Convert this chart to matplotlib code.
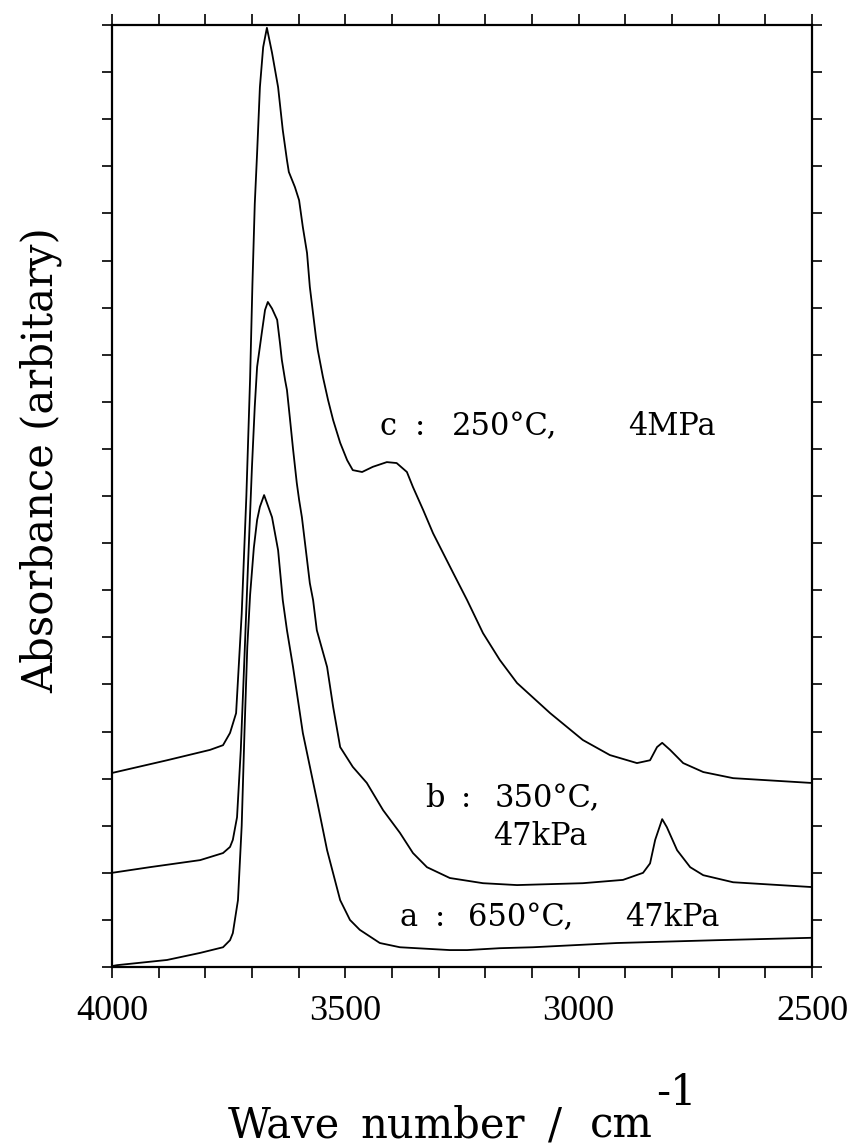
import matplotlib
matplotlib.use("Agg")
import matplotlib.pyplot as plt
from matplotlib.ticker import MultipleLocator, FuncFormatter

# ---- data ----
wn_a = [4000, 3989, 3882, 3811, 3762, 3747, 3741, 3730, 3722, 3716, 3710, 3704, 3696, 3689, 3683,
        3674, 3657, 3644, 3634, 3625, 3612, 3591, 3561, 3539, 3511, 3490, 3469, 3426, 3383, 3276,
        3239, 3169, 3098, 2918, 2704, 2504, 2500]
abs_a = [0.02, 0.04, 0.15, 0.30, 0.42, 0.57, 0.72, 1.42, 3.0, 5.0, 6.8, 7.9, 8.9, 9.49, 9.77,
         10.02, 9.55, 8.85, 7.79, 7.15, 6.37, 4.97, 3.55, 2.48, 1.42, 1.0, 0.79, 0.51, 0.42, 0.36,
         0.36, 0.40, 0.42, 0.51, 0.57, 0.62, 0.62]

wn_b = [4000, 3919, 3811, 3762, 3747, 3741, 3732, 3724, 3716, 3709, 3700, 3694, 3689, 3679, 3672,
        3666, 3657, 3646, 3640, 3636, 3629, 3625, 3619, 3612, 3604, 3599, 3593, 3576, 3569, 3561,
        3539, 3526, 3511, 3484, 3454, 3419, 3383, 3355, 3325, 3276, 3205, 3132, 2991, 2905, 2862,
        2847, 2836, 2821, 2811, 2789, 2761, 2733, 2669, 2504, 2500]
abs_b = [2.0, 2.12, 2.27, 2.42, 2.55, 2.70, 3.18, 4.6, 6.6, 8.4, 10.62, 11.9, 12.74, 13.46, 13.95,
         14.12, 13.98, 13.74, 13.25, 12.89, 12.46, 12.25, 11.68, 11.0, 10.28, 9.92, 9.55, 8.15, 7.79, 7.15,
         6.37, 5.52, 4.67, 4.25, 3.91, 3.33, 2.85, 2.42, 2.12, 1.89, 1.78, 1.74, 1.78, 1.85, 2.0,
         2.2, 2.70, 3.14, 2.97, 2.48, 2.12, 1.95, 1.80, 1.70, 1.70]

wn_c = [4000, 3882, 3790, 3762, 3747, 3734, 3722, 3712, 3704, 3699, 3694, 3689, 3683, 3676, 3668,
        3657, 3644, 3634, 3625, 3621, 3608, 3599, 3591, 3582, 3576, 3563, 3559, 3548, 3537, 3526,
        3511, 3496, 3484, 3464, 3441, 3411, 3390, 3368, 3355, 3333, 3312, 3269, 3239, 3205, 3169,
        3132, 3061, 2991, 2933, 2875, 2847, 2832, 2821, 2804, 2776, 2733, 2669, 2504, 2500]
abs_c = [4.12, 4.39, 4.61, 4.71, 4.97, 5.39, 7.5, 10.0, 12.5, 14.5, 16.2, 17.28, 18.68, 19.53, 19.94,
         19.41, 18.68, 17.77, 17.13, 16.88, 16.56, 16.28, 15.71, 15.16, 14.44, 13.38, 13.10, 12.53, 12.04, 11.61,
         11.13, 10.76, 10.55, 10.51, 10.62, 10.72, 10.70, 10.51, 10.19, 9.70, 9.21, 8.37, 7.79, 7.09, 6.52,
         6.03, 5.39, 4.82, 4.50, 4.33, 4.39, 4.67, 4.76, 4.61, 4.33, 4.14, 4.01, 3.91, 3.91]

xtick_labels = [4000, 3500, 3000, 2500]

# ---- figure ----
W, H = 854, 1147
fig = plt.figure(figsize=(W / 100, H / 100), dpi=100)
ax = fig.add_axes([0.1311, 0.1569, 0.8197, 0.8213])

for wn, ab in [(wn_a, abs_a), (wn_b, abs_b), (wn_c, abs_c)]:
    ax.plot(wn, ab, color="black", lw=1.3)

ax.set_xlim(4000, 2500)
ax.set_ylim(0, 20)
ax.xaxis.set_major_locator(MultipleLocator(100))
ax.yaxis.set_major_locator(MultipleLocator(1))
ax.xaxis.set_major_formatter(FuncFormatter(
    lambda v, p: f"{int(round(v))}" if int(round(v)) in xtick_labels else ""))
ax.yaxis.set_major_formatter(FuncFormatter(lambda v, p: ""))
ax.tick_params(direction="out", length=7, width=1.2, top=True, right=True,
               labelsize=26, pad=12)
ax.tick_params(axis="x", which="major", length=8)
for lab in ax.get_xticklabels():
    lab.set_fontfamily("Liberation Serif")
for s in ax.spines.values():
    s.set_linewidth(1.6)

tfont = dict(family="DejaVu Serif", size=22, color="black", va="baseline", ha="left")
# c label
ax.text(3426, 11.3, "c", **tfont)
ax.text(3351, 11.3, ":", **tfont)
ax.text(3271, 11.3, "250°C,", **tfont)
ax.text(2894, 11.3, "4MPa", **tfont)
# b label
ax.text(3329, 3.40, "b", **tfont)
ax.text(3252, 3.40, ":", **tfont)
ax.text(3179, 3.40, "350°C,", **tfont)
ax.text(3184, 2.59, "47kPa", **tfont)
# a label
ax.text(3383, 0.87, "a", **tfont)
ax.text(3308, 0.87, ":", **tfont)
ax.text(3237, 0.87, "650°C,", **tfont)
ax.text(2901, 0.87, "47kPa", **tfont)

# axis labels
lfont = dict(family="DejaVu Serif", size=30, color="black")
fig.text(41 / W, 1 - 460 / H, "Absorbance (arbitary)", rotation=90,
         ha="center", va="center", **lfont)
base = 1 - 1137 / H
fig.text(228 / W, base, "Wave", ha="left", va="baseline", **lfont)
fig.text(360 / W, base, "number", ha="left", va="baseline", **lfont)
fig.text(548 / W, base, "/", ha="left", va="baseline", **lfont)
cm = fig.text(590 / W, base, "cm", ha="left", va="baseline", **lfont)
fig.canvas.draw()
bb = cm.get_window_extent()
fig.text((bb.x1 + 3) / W, 1 - 1105 / H, "-1", ha="left", va="baseline", **lfont)

fig.savefig("out.png", dpi=100)
